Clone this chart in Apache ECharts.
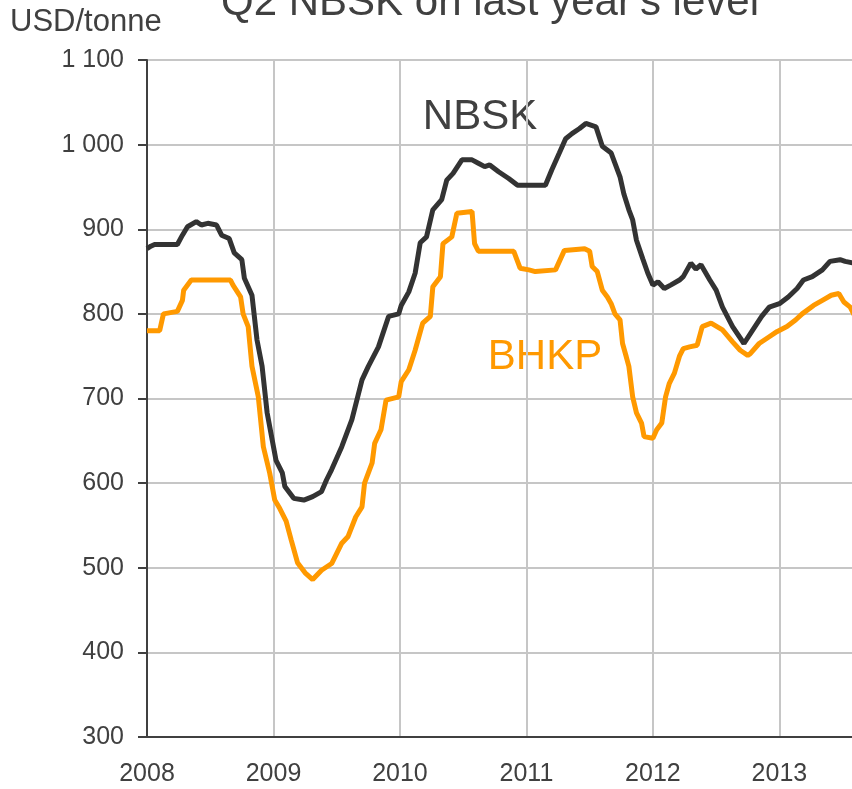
<!DOCTYPE html>
<html>
<head>
<meta charset="utf-8">
<script src="https://cdn.jsdelivr.net/npm/echarts@6/dist/echarts.min.js"></script>
<style>
  html, body { margin: 0; padding: 0; background: #fff; }
  #chart { width: 852px; height: 789px; }
</style>
</head>
<body>
<div id="chart"></div>
<script>
// pulp prices, USD/tonne, x in decimal years
const nbskT = [
  2008.00, 2008.03, 2008.06, 2008.24, 2008.28, 2008.32, 2008.39, 2008.43, 2008.48, 2008.55,
  2008.59, 2008.65, 2008.69, 2008.75, 2008.77, 2008.83, 2008.87, 2008.91, 2008.95, 2008.99,
  2009.02, 2009.07, 2009.09, 2009.16, 2009.24, 2009.31, 2009.38, 2009.42, 2009.46, 2009.54,
  2009.62, 2009.70, 2009.75, 2009.83, 2009.91, 2009.99, 2010.01, 2010.07, 2010.12, 2010.16,
  2010.21, 2010.26, 2010.33, 2010.37, 2010.42, 2010.49, 2010.57, 2010.62, 2010.67, 2010.71,
  2010.78, 2010.86, 2010.93, 2011.15, 2011.20, 2011.26, 2011.31, 2011.36, 2011.42, 2011.47,
  2011.55, 2011.60, 2011.67, 2011.74, 2011.77, 2011.81, 2011.84, 2011.87, 2011.92, 2011.96,
  2012.00, 2012.04, 2012.09, 2012.14, 2012.21, 2012.24, 2012.30, 2012.34, 2012.38, 2012.45,
  2012.50, 2012.55, 2012.63, 2012.72, 2012.79, 2012.86, 2012.92, 2013.00, 2013.07, 2013.14,
  2013.19, 2013.26, 2013.34, 2013.40, 2013.48, 2013.52, 2013.59
];
const nbskV = [
  877, 880, 882, 882, 893, 903, 909, 905, 907, 905,
  893, 889, 872, 864, 842, 822, 769, 738, 683, 651,
  627, 612, 596, 582, 580, 584, 590, 604, 616, 643,
  675, 722, 738, 761, 797, 800, 810, 826, 848, 884,
  891, 923, 935, 958, 966, 982, 982, 978, 974, 976,
  968, 960, 952, 952, 970, 990, 1007, 1013, 1019, 1025,
  1021, 998, 990, 962, 942, 923, 911, 887, 865, 848,
  834, 838, 830, 834, 840, 844, 860, 853, 858, 840,
  828, 808, 785, 765, 781, 797, 808, 812, 820, 830,
  840, 844, 852, 862, 864, 862, 860
];
const bhkpT = [
  2008.00, 2008.10, 2008.13, 2008.24, 2008.28, 2008.29, 2008.35, 2008.66, 2008.68, 2008.74,
  2008.76, 2008.80, 2008.83, 2008.88, 2008.92, 2008.97, 2009.01, 2009.05, 2009.10, 2009.14,
  2009.19, 2009.25, 2009.31, 2009.38, 2009.46, 2009.54, 2009.59, 2009.65, 2009.70, 2009.72,
  2009.78, 2009.80, 2009.85, 2009.89, 2009.99, 2010.01, 2010.07, 2010.12, 2010.18, 2010.24,
  2010.26, 2010.32, 2010.34, 2010.41, 2010.45, 2010.57, 2010.59, 2010.62, 2010.90, 2010.95,
  2011.02, 2011.07, 2011.23, 2011.30, 2011.46, 2011.50, 2011.52, 2011.56, 2011.60, 2011.64,
  2011.67, 2011.70, 2011.74, 2011.76, 2011.79, 2011.81, 2011.84, 2011.87, 2011.91, 2011.93,
  2012.00, 2012.03, 2012.07, 2012.10, 2012.13, 2012.17, 2012.21, 2012.24, 2012.29, 2012.35,
  2012.39, 2012.46, 2012.55, 2012.63, 2012.69, 2012.75, 2012.77, 2012.84, 2012.92, 2012.98,
  2013.06, 2013.13, 2013.18, 2013.27, 2013.34, 2013.41, 2013.47, 2013.51, 2013.56, 2013.59
];
const bhkpV = [
  780, 780, 800, 803, 816, 828, 840, 840, 834, 820,
  800, 785, 738, 702, 643, 612, 580, 570, 555, 533,
  506, 494, 486, 497, 505, 529, 537, 560, 572, 600,
  624, 647, 663, 698, 702, 720, 734, 757, 789, 797,
  832, 844, 883, 891, 919, 921, 883, 874, 874, 854,
  852, 850, 852, 875, 877, 874, 856, 850, 828, 820,
  812, 800, 793, 765, 749, 738, 702, 683, 671, 655,
  653, 663, 671, 702, 718, 730, 750, 759, 761, 763,
  785, 789, 781, 767, 757, 751, 753, 765, 773, 779,
  785, 793, 800, 810, 816, 822, 824, 814, 808, 799
];
const yearTicks = [2008, 2009, 2010, 2011, 2012, 2013];

const zip = (t, v) => t.map((x, i) => [x, v[i]]);
const font = '"Liberation Sans", Arial, sans-serif';
const ink = '#404040';

const chart = echarts.init(document.getElementById('chart'));
chart.setOption({
  animation: false,
  backgroundColor: '#fff',
  grid: { left: 147, right: -2, top: 60, bottom: 52, outerBoundsMode: 'none' },
  xAxis: {
    type: 'value',
    min: 2008,
    max: 2013.59,
    interval: 1,
    axisLine: { lineStyle: { color: ink, width: 2 } },
    axisTick: { show: false },
    splitLine: { lineStyle: { color: '#c6c6c6', width: 2 } },
    axisLabel: {
      showMaxLabel: false,
      margin: 25,
      fontFamily: font,
      fontSize: 25,
      color: ink,
      formatter: v => (yearTicks.includes(v) ? String(v) : '')
    }
  },
  yAxis: {
    type: 'value',
    min: 300,
    max: 1100,
    interval: 100,
    axisLine: { show: true, lineStyle: { color: ink, width: 2 } },
    axisTick: { show: true, length: 9, lineStyle: { color: ink, width: 2 } },
    splitLine: { lineStyle: { color: '#c6c6c6', width: 2 } },
    axisLabel: {
      margin: 23,
      fontFamily: font,
      fontSize: 25,
      color: ink,
      formatter: v => (v >= 1000 ? Math.floor(v / 1000) + ' ' + String(v % 1000).padStart(3, '0') : String(v))
    }
  },
  graphic: [
    { type: 'text', style: { text: "Q2 NBSK on last year's level", x: 490, y: 3, textAlign: 'center', textVerticalAlign: 'middle', font: '42px ' + font, fill: ink } },
    { type: 'text', style: { text: 'USD/tonne', x: 10, y: 22, textAlign: 'left', textVerticalAlign: 'middle', font: '31px ' + font, fill: ink } },
    { type: 'text', style: { text: 'NBSK', x: 480, y: 117, textAlign: 'center', textVerticalAlign: 'middle', font: '42px ' + font, fill: ink } },
    { type: 'text', style: { text: 'BHKP', x: 545, y: 357, textAlign: 'center', textVerticalAlign: 'middle', font: '42px ' + font, fill: '#ff9900' } }
  ],
  series: [
    {
      name: 'BHKP',
      type: 'line',
      data: zip(bhkpT, bhkpV),
      showSymbol: false,
      lineStyle: { color: '#ff9900', width: 5 }
    },
    {
      name: 'NBSK',
      type: 'line',
      data: zip(nbskT, nbskV),
      showSymbol: false,
      lineStyle: { color: '#333333', width: 5 }
    }
  ]
});
</script>
</body>
</html>
